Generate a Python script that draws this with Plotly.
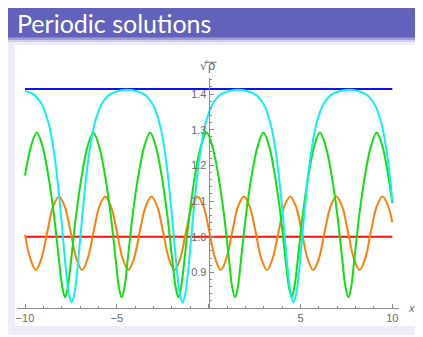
import plotly.graph_objects as go

# ---------------- data ----------------
blue_x = [-10, 10]
blue_y = [1.4142, 1.4142]

red_x = [-10, 10]
red_y = [1.0, 1.0]

orange_x = [-10.0, -9.72, -9.41, -9.10, -8.78, -8.47, -8.15, -7.84, -7.52, -7.21,
            -6.89, -6.58, -6.26, -5.95, -5.63, -5.32, -5.00, -4.69, -4.38, -4.06,
            -3.75, -3.43, -3.12, -2.80, -2.49, -2.17, -1.86, -1.54, -1.23, -0.91,
            -0.60, -0.28, 0.03, 0.35, 0.66, 0.97, 1.29, 1.60, 1.92, 2.23,
            2.55, 2.86, 3.18, 3.49, 3.81, 4.12, 4.44, 4.75, 5.07, 5.38,
            5.69, 6.01, 6.32, 6.64, 6.95, 7.27, 7.58, 7.90, 8.21, 8.53,
            8.84, 9.15, 9.47, 9.78, 10.0]
orange_y = [1.005, 0.940, 0.9065, 0.940, 1.015, 1.085, 1.113, 1.085, 1.015, 0.940,
            0.9065, 0.940, 1.015, 1.085, 1.113, 1.085, 1.015, 0.940, 0.9065, 0.940,
            1.015, 1.085, 1.113, 1.085, 1.015, 0.940, 0.9065, 0.940, 1.015, 1.085,
            1.113, 1.085, 1.015, 0.940, 0.9065, 0.940, 1.015, 1.085, 1.113, 1.085,
            1.015, 0.940, 0.9065, 0.940, 1.015, 1.085, 1.113, 1.085, 1.015, 0.940,
            0.9065, 0.940, 1.015, 1.085, 1.113, 1.085, 1.015, 0.940, 0.9065, 0.940,
            1.015, 1.085, 1.113, 1.085, 1.04]

green_x = [-10.0, -9.67, -9.36, -9.05, -8.75, -8.44, -8.13, -7.97, -7.82, -7.67,
           -7.51, -7.20, -6.89, -6.59, -6.28, -5.97, -5.66, -5.35, -5.04, -4.89,
           -4.74, -4.58, -4.43, -4.12, -3.81, -3.50, -3.19, -2.88, -2.58, -2.27,
           -1.96, -1.80, -1.65, -1.50, -1.34, -1.03, -0.73, -0.42, -0.11, 0.20,
           0.51, 0.82, 1.13, 1.28, 1.44, 1.59, 1.74, 2.05, 2.36, 2.67,
           2.98, 3.29, 3.59, 3.90, 4.21, 4.37, 4.52, 4.67, 4.83, 5.14,
           5.45, 5.75, 6.06, 6.37, 6.68, 6.99, 7.30, 7.45, 7.61, 7.76,
           7.91, 8.22, 8.53, 8.84, 9.15, 9.46, 9.76, 10.0]
green_y = [1.171, 1.254, 1.292, 1.254, 1.177, 1.068, 0.925, 0.859, 0.830, 0.859,
           0.925, 1.068, 1.177, 1.254, 1.292, 1.254, 1.177, 1.068, 0.925, 0.859,
           0.830, 0.859, 0.925, 1.068, 1.177, 1.254, 1.292, 1.254, 1.177, 1.068,
           0.925, 0.859, 0.830, 0.859, 0.925, 1.068, 1.177, 1.254, 1.292, 1.254,
           1.177, 1.068, 0.925, 0.859, 0.830, 0.859, 0.925, 1.068, 1.177, 1.254,
           1.292, 1.254, 1.177, 1.068, 0.925, 0.859, 0.830, 0.859, 0.925, 1.068,
           1.177, 1.254, 1.292, 1.254, 1.177, 1.068, 0.925, 0.859, 0.830, 0.859,
           0.925, 1.068, 1.177, 1.254, 1.292, 1.254, 1.177, 1.095]

cyan_x = [-10.0, -9.56, -9.31, -9.06, -8.86, -8.66, -8.51, -8.36, -8.21, -8.06,
          -7.91, -7.76, -7.61, -7.46, -7.31, -7.16, -7.01, -6.86, -6.71, -6.56,
          -6.41, -6.26, -6.06, -5.86, -5.61, -5.36, -4.96, -4.44,
          -3.92, -3.52, -3.27, -3.02, -2.82, -2.62, -2.47, -2.32, -2.17, -2.02,
          -1.87, -1.72, -1.57, -1.42, -1.27, -1.12, -0.97, -0.82, -0.67, -0.52,
          -0.37, -0.22, -0.02, 0.18, 0.43, 0.68, 1.08, 1.60,
          2.12, 2.52, 2.77, 3.02, 3.22, 3.42, 3.57, 3.72, 3.87, 4.02,
          4.17, 4.32, 4.47, 4.62, 4.77, 4.92, 5.07, 5.22, 5.37, 5.52,
          5.67, 5.82, 6.02, 6.22, 6.47, 6.72, 7.12, 7.64,
          8.16, 8.56, 8.81, 9.06, 9.26, 9.46, 9.61, 9.76, 9.91, 10.0]
cyan_y = [1.409, 1.400, 1.388, 1.369, 1.343, 1.306, 1.266, 1.214, 1.149, 1.071,
          0.985, 0.902, 0.840, 0.816, 0.840, 0.902, 0.985, 1.071, 1.149, 1.214,
          1.266, 1.306, 1.343, 1.369, 1.388, 1.400, 1.408, 1.412,
          1.408, 1.400, 1.388, 1.369, 1.343, 1.306, 1.266, 1.214, 1.149, 1.071,
          0.985, 0.902, 0.840, 0.816, 0.840, 0.902, 0.985, 1.071, 1.149, 1.214,
          1.266, 1.306, 1.343, 1.369, 1.388, 1.400, 1.408, 1.412,
          1.408, 1.400, 1.388, 1.369, 1.343, 1.306, 1.266, 1.214, 1.149, 1.071,
          0.985, 0.902, 0.840, 0.816, 0.840, 0.902, 0.985, 1.071, 1.149, 1.214,
          1.266, 1.306, 1.343, 1.369, 1.388, 1.400, 1.408, 1.412,
          1.408, 1.400, 1.388, 1.369, 1.343, 1.306, 1.266, 1.214, 1.149, 1.10]

x_tick_vals = [-10, -5, 0, 5, 10]
x_tick_text = ["\u221210", "\u22125", "", "5", "10"]
y_tick_vals = [0.9, 1.0, 1.1, 1.2, 1.3, 1.4]
y_tick_text = ["0.9", "1.0", "1.1", "1.2", "1.3", "1.4"]

title_text = "Periodic solutions"
x_label = "x"
y_label = "\u221A\u03C1"

# ---------------- layout geometry ----------------
# the page body has an 8px margin, so the figure is drawn 8px in from the window edge
OFF = 8
FW, FH = 423 - OFF, 337 - OFF
# plot area in window pixels: x 17..399, y 78..308
ML = 17 - OFF
MR = FW - (399 - OFF)
MT = 78 - OFF
MB = FH - (308 - OFF)
PW = FW - ML - MR
PH = FH - MT - MB


def px(xp):
    """window pixel x -> paper x"""
    return (xp - OFF - ML) / PW


def py(yp):
    """window pixel y -> paper y"""
    return (FH - MB - (yp - OFF)) / PH


def rrect(x0, y0, x1, y1, rt, rb):
    """rounded rectangle path (window pixel coords in, paper coords out)"""
    pts = []
    pts.append("M %f,%f" % (px(x0 + rt), py(y0)))
    pts.append("L %f,%f" % (px(x1 - rt), py(y0)))
    pts.append("Q %f,%f %f,%f" % (px(x1), py(y0), px(x1), py(y0 + rt)))
    pts.append("L %f,%f" % (px(x1), py(y1 - rb)))
    pts.append("Q %f,%f %f,%f" % (px(x1), py(y1), px(x1 - rb), py(y1)))
    pts.append("L %f,%f" % (px(x0 + rb), py(y1)))
    pts.append("Q %f,%f %f,%f" % (px(x0), py(y1), px(x0), py(y1 - rb)))
    pts.append("L %f,%f" % (px(x0), py(y0 + rt)))
    pts.append("Q %f,%f %f,%f" % (px(x0), py(y0), px(x0 + rt), py(y0)))
    pts.append("Z")
    return " ".join(pts)


HEADER = "#6262BC"
BODY = "#EDEDF7"
AXIS = "#8C8C8C"
TXT = "#6A6A6A"

shapes = [
    dict(type="path", path=rrect(5, 5, 420, 335, 9, 9), xref="paper", yref="paper",
         fillcolor=BODY, line=dict(width=0), layer="below"),
    dict(type="path", path=rrect(5, 5, 420, 38, 9, 0), xref="paper", yref="paper",
         fillcolor=HEADER, line=dict(width=0), layer="below"),
    dict(type="rect", x0=px(5), x1=px(420), y0=py(37.5), y1=py(40), xref="paper", yref="paper",
         fillcolor="#9E9ED6", line=dict(width=0), layer="below"),
    dict(type="rect", x0=px(5), x1=px(420), y0=py(40), y1=py(42), xref="paper", yref="paper",
         fillcolor="#CFCFEB", line=dict(width=0), layer="below"),
    dict(type="rect", x0=px(15), x1=px(416), y0=py(45), y1=py(326), xref="paper", yref="paper",
         fillcolor="white", line=dict(width=0), layer="below"),
    # radical overbar of the y label
    dict(type="line", x0=px(204.5), x1=px(216.5), y0=py(62.3), y1=py(62.3), xref="paper", yref="paper",
         line=dict(color=TXT, width=1)),
]

fig = go.Figure()
fig.add_trace(go.Scatter(x=blue_x, y=blue_y, mode="lines", line=dict(color="#1010F0", width=2.2)))
fig.add_trace(go.Scatter(x=red_x, y=red_y, mode="lines", line=dict(color="#F41010", width=2)))
fig.add_trace(go.Scatter(x=orange_x, y=orange_y, mode="lines",
                         line=dict(color="#FF7F0A", width=2, shape="spline")))
fig.add_trace(go.Scatter(x=green_x, y=green_y, mode="lines",
                         line=dict(color="#10E010", width=2, shape="spline")))
fig.add_trace(go.Scatter(x=cyan_x, y=cyan_y, mode="lines",
                         line=dict(color="#10F0F0", width=2, shape="spline")))

fig.update_layout(
    width=FW, height=FH,
    margin=dict(l=ML, r=MR, t=MT, b=MB, pad=0, autoexpand=False),
    paper_bgcolor="white",
    plot_bgcolor="rgba(0,0,0,0)",
    showlegend=False,
    shapes=shapes,
    font=dict(family="Liberation Sans, Arial, sans-serif", color=TXT, size=11),
    xaxis=dict(
        range=[-10.436, 10.365], showgrid=False, zeroline=False, automargin=False,
        showline=True, linecolor=AXIS, linewidth=1,
        tickmode="array", tickvals=x_tick_vals, ticktext=x_tick_text,
        ticks="inside", ticklen=4, tickcolor=AXIS, tickwidth=1,
        minor=dict(tickmode="linear", tick0=0, dtick=1, ticks="inside", ticklen=2.5,
                   tickcolor=AXIS, tickwidth=1, showgrid=False),
        tickfont=dict(size=11, color=TXT),
    ),
    yaxis=dict(
        range=[0.80, 1.445], showgrid=False, zeroline=False, automargin=False,
        anchor="free", position=(0 + 10.436) / (10.365 + 10.436),
        showline=True, linecolor=AXIS, linewidth=1,
        tickmode="array", tickvals=y_tick_vals, ticktext=y_tick_text,
        ticks="inside", ticklen=4, tickcolor=AXIS, tickwidth=1,
        minor=dict(tickmode="linear", tick0=0.8, dtick=0.02, ticks="inside", ticklen=2.5,
                   tickcolor=AXIS, tickwidth=1, showgrid=False),
        tickfont=dict(size=11, color=TXT),
    ),
    annotations=[
        dict(text=title_text, xref="paper", yref="paper", x=px(15), y=py(23),
             xanchor="left", yanchor="middle", showarrow=False,
             font=dict(family="Lato, sans-serif", size=25, color="white")),
        dict(text=x_label, xref="paper", yref="paper", x=px(411.5), y=py(308),
             xanchor="center", yanchor="middle", showarrow=False,
             font=dict(family="Liberation Sans, sans-serif", size=11, color=TXT, style="italic")),
        dict(text=y_label, xref="paper", yref="paper", x=px(207.5), y=py(66),
             xanchor="center", yanchor="middle", showarrow=False,
             font=dict(family="DejaVu Sans, sans-serif", size=12, color=TXT)),
    ],
)

fig.write_html("out.html")
